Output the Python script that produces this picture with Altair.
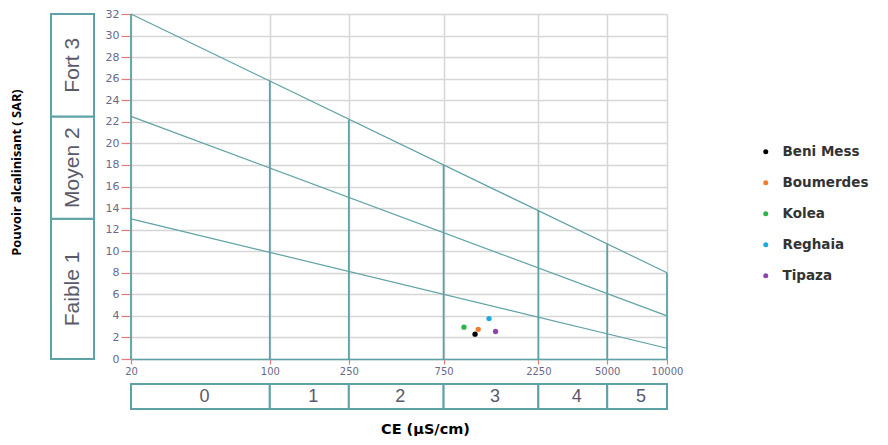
import altair as alt
import pandas as pd
import math

# ---------------- data ----------------
ce_ticks = [20, 100, 250, 750, 2250, 5000, 10000]
sar_ticks = list(range(0, 33, 2))

# class limit lines (SAR at CE = 20 and CE = 10000)
line_names = ["S1/S2", "S2/S3", "S3/S4"]
line_ce_start = [20, 20, 20]
line_ce_end = [10000, 10000, 10000]
line_sar_start = [13, 22.5, 32]
line_sar_end = [1, 4, 8]

# teal verticals: from SAR 0 up to the upper limit line
rule_ce = [20, 100, 250, 750, 2250, 5000, 10000]
rule_top = [32, 25.8, 22.2, 18.0, 13.8, 10.7, 8]

# samples
sites = ["Beni Mess", "Boumerdes", "Kolea", "Reghaia", "Tipaza"]
site_ce = [1080, 1120, 950, 1270, 1370]
site_sar = [2.3, 2.75, 2.95, 3.75, 2.55]
site_colors = ["#000000", "#f47c26", "#2db34a", "#1ca9e6", "#8e44ad"]

# salinity classes (bottom strip)
sal_class = ["0", "1", "2", "3", "4", "5"]
sal_lo = [20, 100, 250, 750, 2250, 5000]
sal_hi = [100, 250, 750, 2250, 5000, 10000]

# alkalinity classes (left strip)
alk_class = ["Faible 1", "Moyen 2", "Fort 3"]
alk_lo = [0, 13, 22.5]
alk_hi = [13, 22.5, 32]

# ---------------- frames ----------------
lines_df = pd.DataFrame(
    [{"line": n, "ce": c, "sar": s}
     for n, c0, c1, s0, s1 in zip(line_names, line_ce_start, line_ce_end, line_sar_start, line_sar_end)
     for c, s in ((c0, s0), (c1, s1))]
)
rules_df = pd.DataFrame({"ce": rule_ce, "top": rule_top})
rules_df["base"] = 0
pts_df = pd.DataFrame({"site": sites, "ce": site_ce, "sar": site_sar})
sal_df = pd.DataFrame({"cls": sal_class, "lo": sal_lo, "hi": sal_hi})
sal_df["mid"] = [math.sqrt(a * b) for a, b in zip(sal_lo, sal_hi)]
alk_df = pd.DataFrame({"cls": alk_class, "lo": alk_lo, "hi": alk_hi})
alk_df["mid"] = [(a + b) / 2 for a, b in zip(alk_lo, alk_hi)]

TEAL = "#5fa2a5"
GRID = "#d6d6d6"
TICK = "#e8777a"
LABEL = "#6a6a88"

W, H = 536, 345

xscale = alt.Scale(type="log", domain=[20, 10000], nice=False)
yscale = alt.Scale(domain=[0, 32], nice=False)

xaxis = alt.Axis(values=ce_ticks, format="d", title=None, grid=True, gridColor=GRID,
                 gridWidth=1.5, tickColor=TICK, tickSize=5, tickWidth=1.2,
                 labelColor=LABEL, labelFontSize=10, labelFont="DejaVu Sans",
                 labelFlush=False, labelOverlap=False,
                 domainColor=TEAL, domainWidth=1.5, labelPadding=2)
yaxis = alt.Axis(values=sar_ticks, title=None, grid=True, gridColor=GRID, gridWidth=1.5,
                 tickColor=TICK, tickSize=10, tickWidth=1.2, labelColor=LABEL,
                 labelFontSize=11, labelFont="DejaVu Sans", labelOverlap=False,
                 labelFlush=False, domain=False, labelPadding=2)

rules = alt.Chart(rules_df).mark_rule(color=TEAL, strokeWidth=1.8).encode(
    x=alt.X("ce:Q", scale=xscale, axis=xaxis),
    y=alt.Y("base:Q", scale=yscale, axis=yaxis),
    y2="top:Q",
)

lines = alt.Chart(lines_df).mark_line(color=TEAL, strokeWidth=1.2).encode(
    x=alt.X("ce:Q", scale=xscale, axis=xaxis),
    y=alt.Y("sar:Q", scale=yscale, axis=yaxis),
    detail="line:N",
)

points = alt.Chart(pts_df).mark_circle(size=28, opacity=1).encode(
    x=alt.X("ce:Q", scale=xscale, axis=xaxis),
    y=alt.Y("sar:Q", scale=yscale, axis=yaxis),
    color=alt.Color(
        "site:N",
        scale=alt.Scale(domain=sites, range=site_colors),
        legend=alt.Legend(title=None, orient="none", legendX=708, legendY=131,
                          labelFont="DejaVu Sans", labelFontSize=13.5, labelFontWeight="bold",
                          labelColor="#333333", symbolSize=25, symbolType="circle",
                          rowPadding=16, labelOffset=10),
    ),
)

main = alt.layer(rules, lines, points).properties(width=W, height=H)

left = alt.layer(
    alt.Chart(alk_df).mark_rect(fill="white", stroke=TEAL, strokeWidth=2).encode(
        y=alt.Y("lo:Q", scale=yscale,
                axis=alt.Axis(labels=False, ticks=False, domain=False, grid=False,
                              title="Pouvoir alcalinisant ( SAR)", titleFont="Open Sans",
                              titleFontSize=12.8, titleFontWeight="bold", titleColor="#000000",
                              titlePadding=28, titleY=158)),
        y2="hi:Q",
    ),
    alt.Chart(alk_df).mark_text(angle=270, font="Liberation Sans", fontSize=21,
                                color="#5a5a6a").encode(
        y=alt.Y("mid:Q", scale=yscale),
        text="cls:N",
    ),
).properties(width=43, height=H)

bottom = alt.layer(
    alt.Chart(sal_df).mark_rect(fill="white", stroke=TEAL, strokeWidth=2).encode(
        x=alt.X("lo:Q", scale=xscale,
                axis=alt.Axis(labels=False, ticks=False, domain=False, grid=False,
                              title="CE (µS/cm)", titleFont="DejaVu Sans", titleFontSize=14.5,
                              titleFontWeight="bold", titleColor="#000000",
                              titlePadding=13, titleX=294)),
        x2="hi:Q",
    ),
    alt.Chart(sal_df).mark_text(font="Liberation Sans", fontSize=18, color="#5a5a6a", dx=4).encode(
        x=alt.X("mid:Q", scale=xscale),
        text="cls:N",
    ),
).properties(width=W, height=25)

chart = alt.hconcat(
    left,
    alt.vconcat(main, bottom, spacing=7),
    spacing=10,
).properties(
    padding={"left": 2, "top": 0, "right": 0, "bottom": 0}
).configure_view(strokeWidth=0)

chart.save("out.html", embed_options={"renderer": "svg", "actions": False})
